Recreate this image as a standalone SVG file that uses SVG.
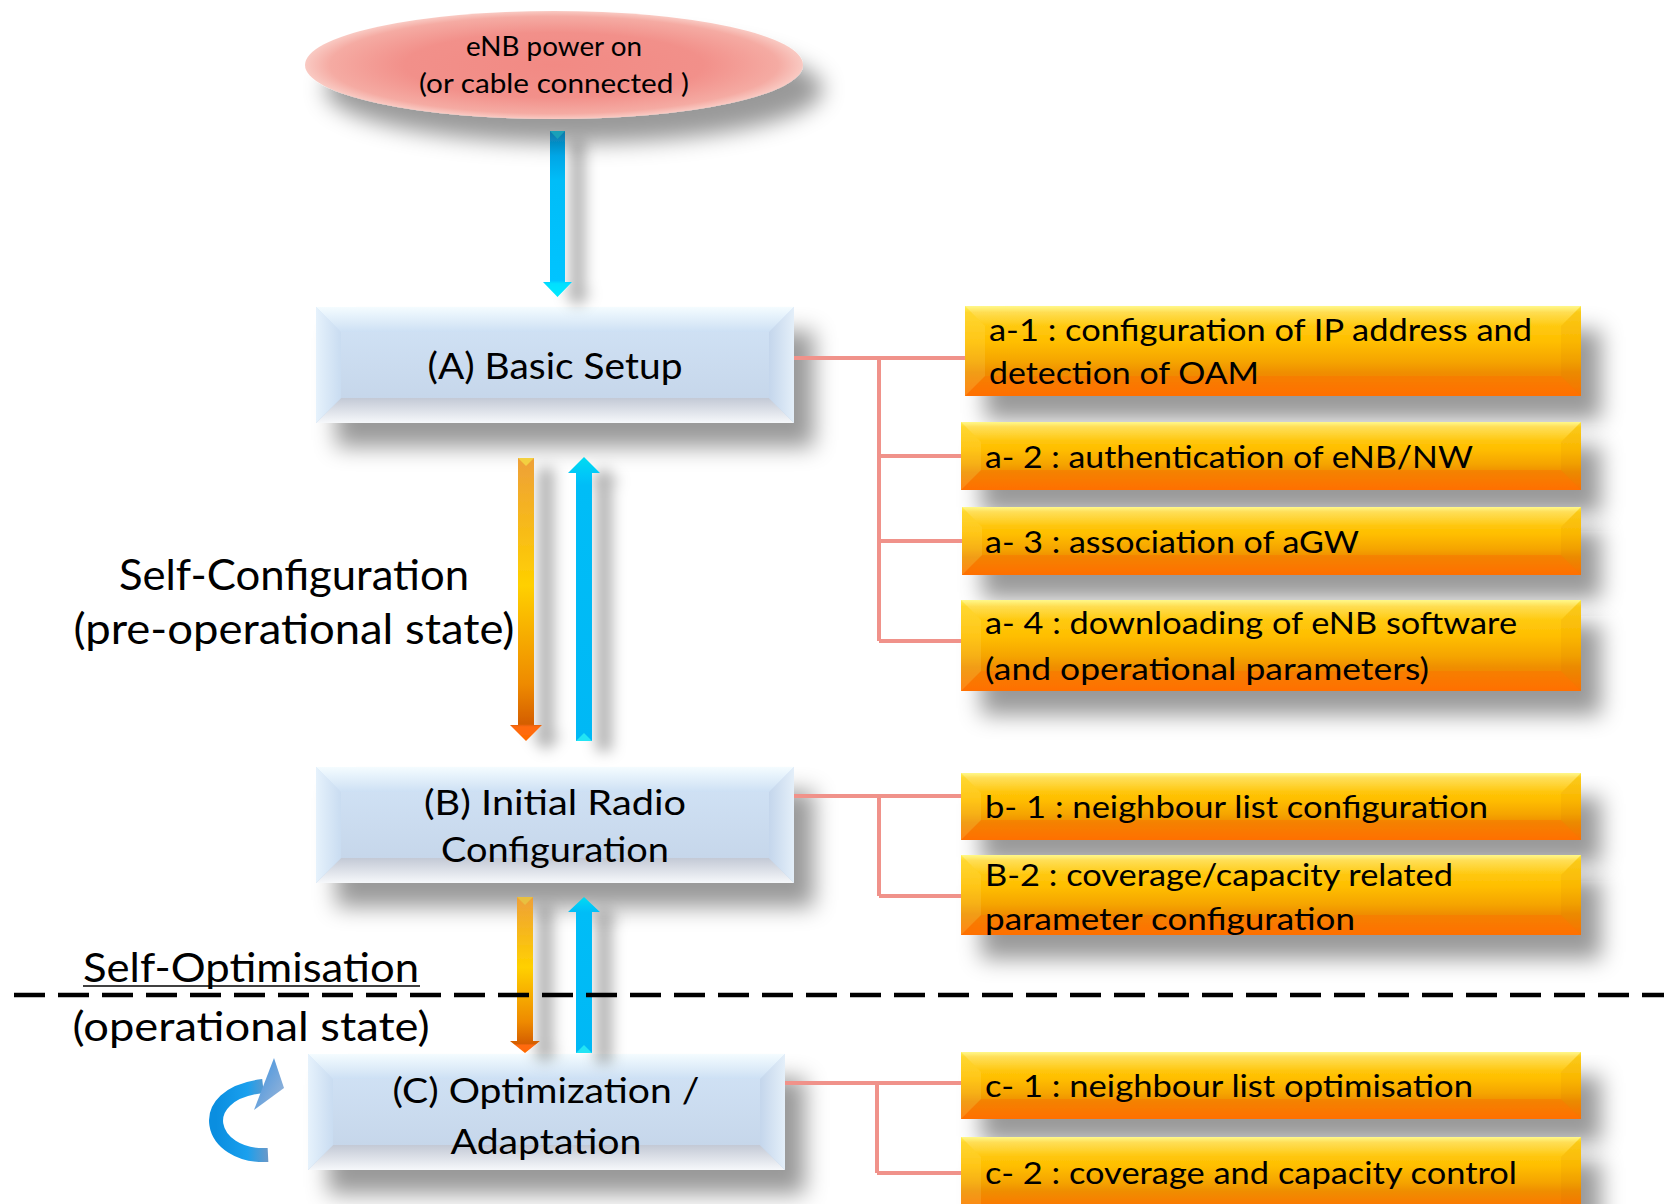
<svg xmlns="http://www.w3.org/2000/svg" width="1664" height="1204" viewBox="0 0 1664 1204">
<defs>
  <style>
    text{font-family:Lato,"Liberation Sans",sans-serif;fill:#000;}
    .c{text-anchor:middle;}
    .big{font-size:36px;}
    .lab{font-size:42px;}
    .or{font-size:30px;}
    .conn{fill:none;stroke:#f0928a;stroke-width:4;}
    .bB{fill:url(#gBlueBody);}
    .bT{fill:url(#gBlueTop);}
    .bD{fill:url(#gBlueBot);}
    .bL{fill:url(#gBlueL);}
    .bR{fill:url(#gBlueR);}
    .oB{fill:url(#gOrBody);}
    .oT{fill:url(#gOrTop);}
    .oD{fill:#ff6a00;fill-opacity:0.35;}
    .oL{fill:#fff3a0;fill-opacity:0.15;}
    .oR{fill:#b85000;fill-opacity:0.07;}
  </style>
  <linearGradient id="gBlueBody" x1="0" y1="0" x2="0" y2="1">
    <stop offset="0" stop-color="#d2e4f7"/><stop offset="1" stop-color="#c3d3e7"/>
  </linearGradient>
  <linearGradient id="gBlueTop" x1="0" y1="0" x2="0" y2="1">
    <stop offset="0" stop-color="#f4fcff"/><stop offset="1" stop-color="#cde0f4"/>
  </linearGradient>
  <linearGradient id="gBlueBot" x1="0" y1="0" x2="0" y2="1">
    <stop offset="0" stop-color="#c3c9d5"/><stop offset="1" stop-color="#f6f8fb"/>
  </linearGradient>
  <linearGradient id="gBlueL" x1="0" y1="0" x2="1" y2="0">
    <stop offset="0" stop-color="#e6f2fc"/><stop offset="1" stop-color="#c9dcf1"/>
  </linearGradient>
  <linearGradient id="gBlueR" x1="0" y1="0" x2="1" y2="0">
    <stop offset="0" stop-color="#c4d6ec"/><stop offset="1" stop-color="#e4eff9"/>
  </linearGradient>
  <linearGradient id="gOrBody" x1="0" y1="0" x2="0" y2="1">
    <stop offset="0" stop-color="#fff44a"/><stop offset="0.07" stop-color="#ffd31c"/>
    <stop offset="0.4" stop-color="#ffbe00"/><stop offset="0.62" stop-color="#f5a400"/>
    <stop offset="0.74" stop-color="#ef8e00"/><stop offset="1" stop-color="#ff7300"/>
  </linearGradient>
  <linearGradient id="gOrTop" x1="0" y1="0" x2="0" y2="1">
    <stop offset="0" stop-color="#ffffff" stop-opacity="0.35"/><stop offset="1" stop-color="#ffffff" stop-opacity="0"/>
  </linearGradient>
  <radialGradient id="gEll" cx="0.5" cy="0.5" r="0.5">
    <stop offset="0" stop-color="#f28a84"/><stop offset="0.6" stop-color="#f2908a"/>
    <stop offset="0.9" stop-color="#f5aba3"/><stop offset="1" stop-color="#f9cac3"/>
  </radialGradient>
  <linearGradient id="gArrBlueDown" x1="0" y1="0" x2="0" y2="1">
    <stop offset="0" stop-color="#0b78a8"/><stop offset="0.15" stop-color="#00a6e6"/>
    <stop offset="0.3" stop-color="#00bdf8"/><stop offset="0.9" stop-color="#00c4ff"/>
    <stop offset="0.92" stop-color="#00e0ff"/><stop offset="1" stop-color="#00eaff"/>
  </linearGradient>
  <linearGradient id="gArrOr" x1="0" y1="0" x2="0" y2="1">
    <stop offset="0" stop-color="#eea038"/><stop offset="0.45" stop-color="#ffd000"/>
    <stop offset="0.8" stop-color="#ee8a00"/><stop offset="0.94" stop-color="#d45e00"/>
    <stop offset="0.95" stop-color="#ff6a10"/><stop offset="1" stop-color="#ff6a00"/>
  </linearGradient>
  <linearGradient id="gArrBlueUp" x1="0" y1="0" x2="0" y2="1">
    <stop offset="0" stop-color="#00dcf0"/><stop offset="0.06" stop-color="#00c8f8"/>
    <stop offset="0.1" stop-color="#00bdf7"/><stop offset="1" stop-color="#00b8f5"/>
  </linearGradient>
  <linearGradient id="gCurve" x1="0" y1="0" x2="1" y2="0">
    <stop offset="0" stop-color="#0a8ee0"/><stop offset="0.6" stop-color="#1aa0ee"/>
    <stop offset="1" stop-color="#6a98c8"/>
  </linearGradient>
  <linearGradient id="gCurveHead" x1="0" y1="0" x2="1" y2="1">
    <stop offset="0" stop-color="#3a90e0"/><stop offset="1" stop-color="#a0b8d8"/>
  </linearGradient>
  <filter id="sh" x="-10%" y="-30%" width="130%" height="190%">
    <feGaussianBlur in="SourceAlpha" stdDeviation="11"/>
    <feOffset dx="20" dy="24" result="b"/>
    <feFlood flood-color="#000" flood-opacity="0.4"/>
    <feComposite in2="b" operator="in"/>
    <feMerge><feMergeNode/><feMergeNode in="SourceGraphic"/></feMerge>
  </filter>
  <filter id="shA" x="-200%" y="-10%" width="500%" height="130%">
    <feGaussianBlur in="SourceAlpha" stdDeviation="7"/>
    <feOffset dx="20" dy="10" result="b"/>
    <feFlood flood-color="#000" flood-opacity="0.3"/>
    <feComposite in2="b" operator="in"/>
    <feMerge><feMergeNode/><feMergeNode in="SourceGraphic"/></feMerge>
  </filter>
</defs>

<rect width="1664" height="1204" fill="#ffffff"/>

<!-- Start ellipse -->
<g id="node-start">
  <ellipse cx="554" cy="65" rx="249" ry="54" fill="url(#gEll)" filter="url(#sh)"/>
  <text class="c" x="554" y="56" font-size="26" textLength="176" lengthAdjust="spacingAndGlyphs">eNB power on</text>
  <text class="c" x="554" y="93" font-size="26" textLength="270" lengthAdjust="spacingAndGlyphs">(or cable connected )</text>
</g>

<!-- Box A -->
<g id="node-A">
  <g filter="url(#sh)">
    <rect x="316" y="307" width="478" height="116" class="bB"/>
    <polygon class="bT" points="316,307 794,307 769,332 341,332"/>
    <polygon class="bD" points="341,398 769,398 794,423 316,423"/>
    <polygon class="bL" points="316,307 341,332 341,398 316,423"/>
    <polygon class="bR" points="794,307 794,423 769,398 769,332"/>
  </g>
  <text class="c big" x="555" y="379" textLength="255" lengthAdjust="spacingAndGlyphs">(A) Basic Setup</text>
</g>

<!-- Box B -->
<g id="node-B">
  <g filter="url(#sh)">
    <rect x="316" y="767" width="478" height="116" class="bB"/>
    <polygon class="bT" points="316,767 794,767 769,792 341,792"/>
    <polygon class="bD" points="341,858 769,858 794,883 316,883"/>
    <polygon class="bL" points="316,767 341,792 341,858 316,883"/>
    <polygon class="bR" points="794,767 794,883 769,858 769,792"/>
  </g>
  <text class="c" x="555" y="815" font-size="35" textLength="262" lengthAdjust="spacingAndGlyphs">(B) Initial Radio</text>
  <text class="c" x="555" y="862" font-size="35" textLength="228" lengthAdjust="spacingAndGlyphs">Configuration</text>
</g>

<!-- Box C -->
<g id="node-C">
  <g filter="url(#sh)">
    <rect x="308" y="1054" width="477" height="116" class="bB"/>
    <polygon class="bT" points="308,1054 785,1054 760,1079 333,1079"/>
    <polygon class="bD" points="333,1145 760,1145 785,1170 308,1170"/>
    <polygon class="bL" points="308,1054 333,1079 333,1145 308,1170"/>
    <polygon class="bR" points="785,1054 785,1170 760,1145 760,1079"/>
  </g>
  <text class="c" x="546" y="1103" font-size="35" textLength="307" lengthAdjust="spacingAndGlyphs">(C) Optimization /</text>
  <text class="c" x="546" y="1154" font-size="35" textLength="191" lengthAdjust="spacingAndGlyphs">Adaptation</text>
</g>

<!-- Orange boxes -->
<g id="node-a1">
  <g filter="url(#sh)">
    <rect x="965" y="306" width="616" height="90" class="oB"/>
    <polygon class="oT" points="965,306 1581,306 1561,326 985,326"/>
    <polygon class="oD" points="985,376 1561,376 1581,396 965,396"/>
    <polygon class="oL" points="965,306 985,326 985,376 965,396"/>
    <polygon class="oR" points="1581,306 1581,396 1561,376 1561,326"/>
  </g>
  <text class="or" x="989" y="341" textLength="543" lengthAdjust="spacingAndGlyphs">a-1 : configuration of IP address and</text>
  <text class="or" x="989" y="384" textLength="270" lengthAdjust="spacingAndGlyphs">detection of OAM</text>
</g>
<g id="node-a2">
  <g filter="url(#sh)">
    <rect x="961" y="422" width="620" height="68" class="oB"/>
    <polygon class="oT" points="961,422 1581,422 1561,442 981,442"/>
    <polygon class="oD" points="981,470 1561,470 1581,490 961,490"/>
    <polygon class="oL" points="961,422 981,442 981,470 961,490"/>
    <polygon class="oR" points="1581,422 1581,490 1561,470 1561,442"/>
  </g>
  <text class="or" x="985" y="468" textLength="488" lengthAdjust="spacingAndGlyphs">a- 2 : authentication of eNB/NW</text>
</g>
<g id="node-a3">
  <g filter="url(#sh)">
    <rect x="962" y="507" width="619" height="68" class="oB"/>
    <polygon class="oT" points="962,507 1581,507 1561,527 982,527"/>
    <polygon class="oD" points="982,555 1561,555 1581,575 962,575"/>
    <polygon class="oL" points="962,507 982,527 982,555 962,575"/>
    <polygon class="oR" points="1581,507 1581,575 1561,555 1561,527"/>
  </g>
  <text class="or" x="985" y="553" textLength="374" lengthAdjust="spacingAndGlyphs">a- 3 : association of aGW</text>
</g>
<g id="node-a4">
  <g filter="url(#sh)">
    <rect x="961" y="600" width="620" height="91" class="oB"/>
    <polygon class="oT" points="961,600 1581,600 1561,620 981,620"/>
    <polygon class="oD" points="981,671 1561,671 1581,691 961,691"/>
    <polygon class="oL" points="961,600 981,620 981,671 961,691"/>
    <polygon class="oR" points="1581,600 1581,691 1561,671 1561,620"/>
  </g>
  <text class="or" x="985" y="634" textLength="532" lengthAdjust="spacingAndGlyphs">a- 4 : downloading of eNB software</text>
  <text class="or" x="985" y="680" textLength="444" lengthAdjust="spacingAndGlyphs">(and operational parameters)</text>
</g>
<g id="node-b1">
  <g filter="url(#sh)">
    <rect x="961" y="773" width="620" height="67" class="oB"/>
    <polygon class="oT" points="961,773 1581,773 1561,793 981,793"/>
    <polygon class="oD" points="981,820 1561,820 1581,840 961,840"/>
    <polygon class="oL" points="961,773 981,793 981,820 961,840"/>
    <polygon class="oR" points="1581,773 1581,840 1561,820 1561,793"/>
  </g>
  <text class="or" x="985" y="818" textLength="503" lengthAdjust="spacingAndGlyphs">b- 1 : neighbour list configuration</text>
</g>
<g id="node-b2">
  <g filter="url(#sh)">
    <rect x="961" y="855" width="620" height="80" class="oB"/>
    <polygon class="oT" points="961,855 1581,855 1561,875 981,875"/>
    <polygon class="oD" points="981,915 1561,915 1581,935 961,935"/>
    <polygon class="oL" points="961,855 981,875 981,915 961,935"/>
    <polygon class="oR" points="1581,855 1581,935 1561,915 1561,875"/>
  </g>
  <text class="or" x="985" y="886" textLength="468" lengthAdjust="spacingAndGlyphs">B-2 : coverage/capacity related</text>
  <text class="or" x="985" y="930" textLength="370" lengthAdjust="spacingAndGlyphs">parameter configuration</text>
</g>
<g id="node-c1">
  <g filter="url(#sh)">
    <rect x="961" y="1052" width="620" height="67" class="oB"/>
    <polygon class="oT" points="961,1052 1581,1052 1561,1072 981,1072"/>
    <polygon class="oD" points="981,1099 1561,1099 1581,1119 961,1119"/>
    <polygon class="oL" points="961,1052 981,1072 981,1099 961,1119"/>
    <polygon class="oR" points="1581,1052 1581,1119 1561,1099 1561,1072"/>
  </g>
  <text class="or" x="985" y="1097" textLength="488" lengthAdjust="spacingAndGlyphs">c- 1 : neighbour list optimisation</text>
</g>
<g id="node-c2">
  <g filter="url(#sh)">
    <rect x="961" y="1137" width="620" height="73" class="oB"/>
    <polygon class="oT" points="961,1137 1581,1137 1561,1157 981,1157"/>
    <polygon class="oL" points="961,1137 981,1157 981,1210 961,1210"/>
    <polygon class="oR" points="1581,1137 1581,1210 1561,1210 1561,1157"/>
  </g>
  <text class="or" x="985" y="1184" textLength="532" lengthAdjust="spacingAndGlyphs">c- 2 : coverage and capacity control</text>
</g>

<!-- Labels -->
<g id="label-selfconf">
  <text class="c lab" x="294" y="590" textLength="350" lengthAdjust="spacingAndGlyphs">Self-Configuration</text>
  <text class="c lab" x="294" y="644" textLength="441" lengthAdjust="spacingAndGlyphs">(pre-operational state)</text>
</g>
<g id="label-selfopt">
  <text class="c" x="251" y="982" font-size="40" textLength="336" lengthAdjust="spacingAndGlyphs">Self-Optimisation</text>
  <line x1="83" y1="986" x2="420" y2="986" stroke="#000" stroke-width="1.5"/>
  <text class="c" x="251" y="1041" font-size="40" textLength="357" lengthAdjust="spacingAndGlyphs">(operational state)</text>
</g>

<!-- Connectors -->
<g id="connectors">
  <g filter="url(#shA)">
    <path d="M550 131 H565 V282 H572 L557.5 297 L543 282 H550 Z" fill="url(#gArrBlueDown)"/>
  </g>
  <polygon points="550,131 565,131 557.5,139" fill="#1aa0b8"/>
  <g filter="url(#shA)">
    <path d="M518 458 H534 V725 H542 L526 741 L510 725 H518 Z" fill="url(#gArrOr)"/>
    <path d="M576 741 V473 H568 L584 457 L600 473 H592 V741 Z" fill="url(#gArrBlueUp)"/>
    <path d="M517 897 H533 V1041 H540 L525 1053 L510 1041 H517 Z" fill="url(#gArrOr)"/>
    <path d="M576 1053 V912 H568 L584 897 L600 912 H592 V1053 Z" fill="url(#gArrBlueUp)"/>
  </g>
  <polygon points="518,458 534,458 526,466" fill="#f3d040"/>
  <polygon points="576,741 592,741 584,733" fill="#22e4f4"/>
  <polygon points="517,897 533,897 525,905" fill="#e8c040"/>
  <polygon points="576,1053 592,1053 584,1045" fill="#22e4f4"/>

  <path class="conn" d="M794 358 H879 M879 358 V641 M879 358 H965 M879 456 H961 M879 541 H962 M879 641 H961"/>
  <path class="conn" d="M794 796 H879 M879 796 V896 M879 796 H961 M879 896 H961"/>
  <path class="conn" d="M785 1083 H877 M877 1083 V1173 M877 1083 H961 M877 1173 H961"/>

  <g id="self-loop">
    <path d="M268 1155 C 208 1158, 192 1094, 263 1086" fill="none" stroke="url(#gCurve)" stroke-width="14"/>
    <polygon points="274,1058 284,1088 254,1110" fill="url(#gCurveHead)"/>
  </g>

  <line x1="14" y1="995" x2="1664" y2="995" stroke="#000" stroke-width="4.5" stroke-dasharray="31 13"/>
</g>
</svg>
